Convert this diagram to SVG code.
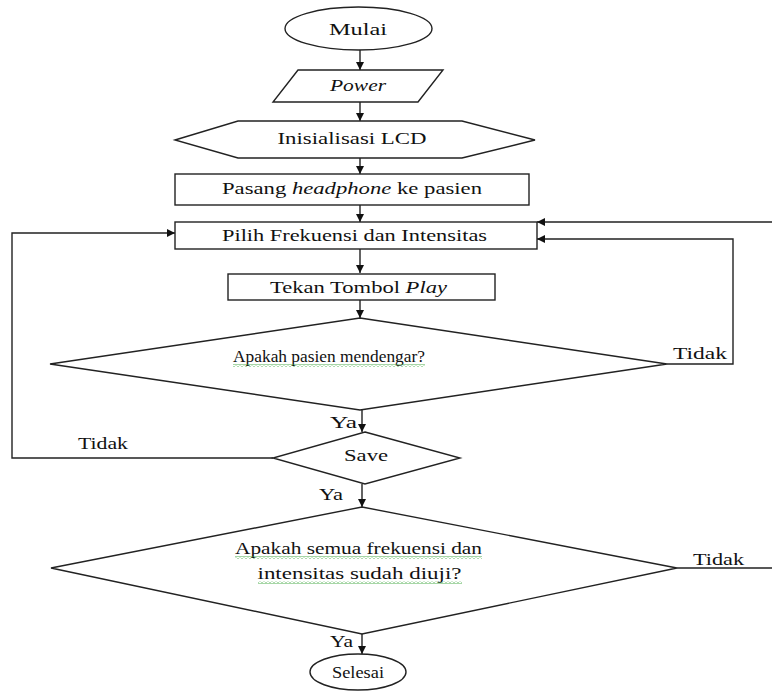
<svg xmlns="http://www.w3.org/2000/svg" width="772" height="693" viewBox="0 0 772 693">
<style>
.shape{fill:#fff;stroke:#222;stroke-width:1.4}
.conn{fill:none;stroke:#222;stroke-width:1.4}
.t{font-family:"Liberation Serif","Times New Roman",serif;font-size:17px;fill:#111;text-anchor:middle}
.it{font-style:italic}
.lbl{font-family:"Liberation Serif","Times New Roman",serif;font-size:17px;fill:#111}
</style>
<defs>
<marker id="arr" viewBox="0 0 10 10" refX="10" refY="5" markerWidth="9" markerHeight="8" markerUnits="userSpaceOnUse" orient="auto">
<path d="M0,0 L10,5 L0,10 z" fill="#111"/>
</marker>
<pattern id="wave" width="4" height="3" patternUnits="userSpaceOnUse">
<path d="M0,2.5 L2,0.5 L4,2.5" fill="none" stroke="#3aa53a" stroke-width="0.9"/>
</pattern>
</defs>

<g id="connectors">
<path class="conn" d="M360,50 V70" marker-end="url(#arr)"/>
<path class="conn" d="M360,102 V121" marker-end="url(#arr)"/>
<path class="conn" d="M360,158 V174" marker-end="url(#arr)"/>
<path class="conn" d="M360,205 V222" marker-end="url(#arr)"/>
<path class="conn" d="M360,249 V273" marker-end="url(#arr)"/>
<path class="conn" d="M360,300 V318" marker-end="url(#arr)"/>
<path class="conn" d="M667,364 H733 V239 H537" marker-end="url(#arr)"/>
<path class="conn" d="M362,410 V432" marker-end="url(#arr)"/>
<path class="conn" d="M273,458 H12 V233 H175" marker-end="url(#arr)"/>
<path class="conn" d="M362,484 V507" marker-end="url(#arr)"/>
<path class="conn" d="M677,568 H790 V222 H537" marker-end="url(#arr)"/>
<path class="conn" d="M362,634 V654" marker-end="url(#arr)"/>
<text class="lbl" x="673" y="359" textLength="54" lengthAdjust="spacingAndGlyphs">Tidak</text>
<text class="lbl" x="330" y="428" textLength="27" lengthAdjust="spacingAndGlyphs">Ya</text>
<text class="lbl" x="78" y="449" textLength="50" lengthAdjust="spacingAndGlyphs">Tidak</text>
<text class="lbl" x="319" y="500" textLength="24" lengthAdjust="spacingAndGlyphs">Ya</text>
<text class="lbl" x="693" y="565" textLength="51" lengthAdjust="spacingAndGlyphs">Tidak</text>
<text class="lbl" x="330" y="647" textLength="23" lengthAdjust="spacingAndGlyphs">Ya</text>
</g>

<g id="mulai">
<ellipse class="shape" cx="358.5" cy="28.5" rx="73.5" ry="21.5"/>
<text class="t" x="358" y="35" textLength="58" lengthAdjust="spacingAndGlyphs">Mulai</text>
</g>

<g id="power">
<polygon class="shape" points="298,70 443,70 418,102 273,102"/>
<text class="t it" x="358" y="91" textLength="56" lengthAdjust="spacingAndGlyphs">Power</text>
</g>

<g id="inisialisasi">
<polygon class="shape" points="175,140 238,121 462,121 535,140 462,158 238,158"/>
<text class="t" x="352" y="144" textLength="149" lengthAdjust="spacingAndGlyphs">Inisialisasi LCD</text>
</g>

<g id="pasang">
<rect class="shape" x="175" y="174" width="354" height="31"/>
<text class="t" x="352" y="194" textLength="260" lengthAdjust="spacingAndGlyphs">Pasang <tspan class="it">headphone</tspan> ke pasien</text>
</g>

<g id="pilih">
<rect class="shape" x="175" y="222" width="362" height="27"/>
<text class="t" x="354.5" y="241" textLength="265" lengthAdjust="spacingAndGlyphs">Pilih Frekuensi dan Intensitas</text>
</g>

<g id="tekan">
<rect class="shape" x="228" y="274" width="267" height="26"/>
<text class="t" x="358.5" y="293" textLength="177" lengthAdjust="spacingAndGlyphs">Tekan Tombol <tspan class="it">Play</tspan></text>
</g>

<g id="mendengar">
<polygon class="shape" points="360,318 667,364 360,410 50,364"/>
<text class="t" x="329" y="362" textLength="192" lengthAdjust="spacingAndGlyphs">Apakah pasien mendengar?</text>
<rect x="233" y="364" width="192" height="3" fill="url(#wave)"/>
</g>

<g id="save">
<polygon class="shape" points="365,432 460,458 365,484 273,458"/>
<text class="t" x="366" y="461" textLength="44" lengthAdjust="spacingAndGlyphs">Save</text>
</g>

<g id="semua">
<polygon class="shape" points="362,507 677,568 362,634 51,568"/>
<text class="t" x="358.5" y="554" textLength="247" lengthAdjust="spacingAndGlyphs">Apakah semua frekuensi dan</text>
<text class="t" x="359.5" y="579" textLength="204" lengthAdjust="spacingAndGlyphs">intensitas sudah diuji?</text>
<rect x="235" y="556" width="247" height="3" fill="url(#wave)"/>
<rect x="258" y="581" width="204" height="3" fill="url(#wave)"/>
</g>

<g id="selesai">
<ellipse class="shape" cx="358" cy="672" rx="48" ry="18"/>
<text class="t" x="358" y="678" textLength="52" lengthAdjust="spacingAndGlyphs">Selesai</text>
</g>
</svg>
